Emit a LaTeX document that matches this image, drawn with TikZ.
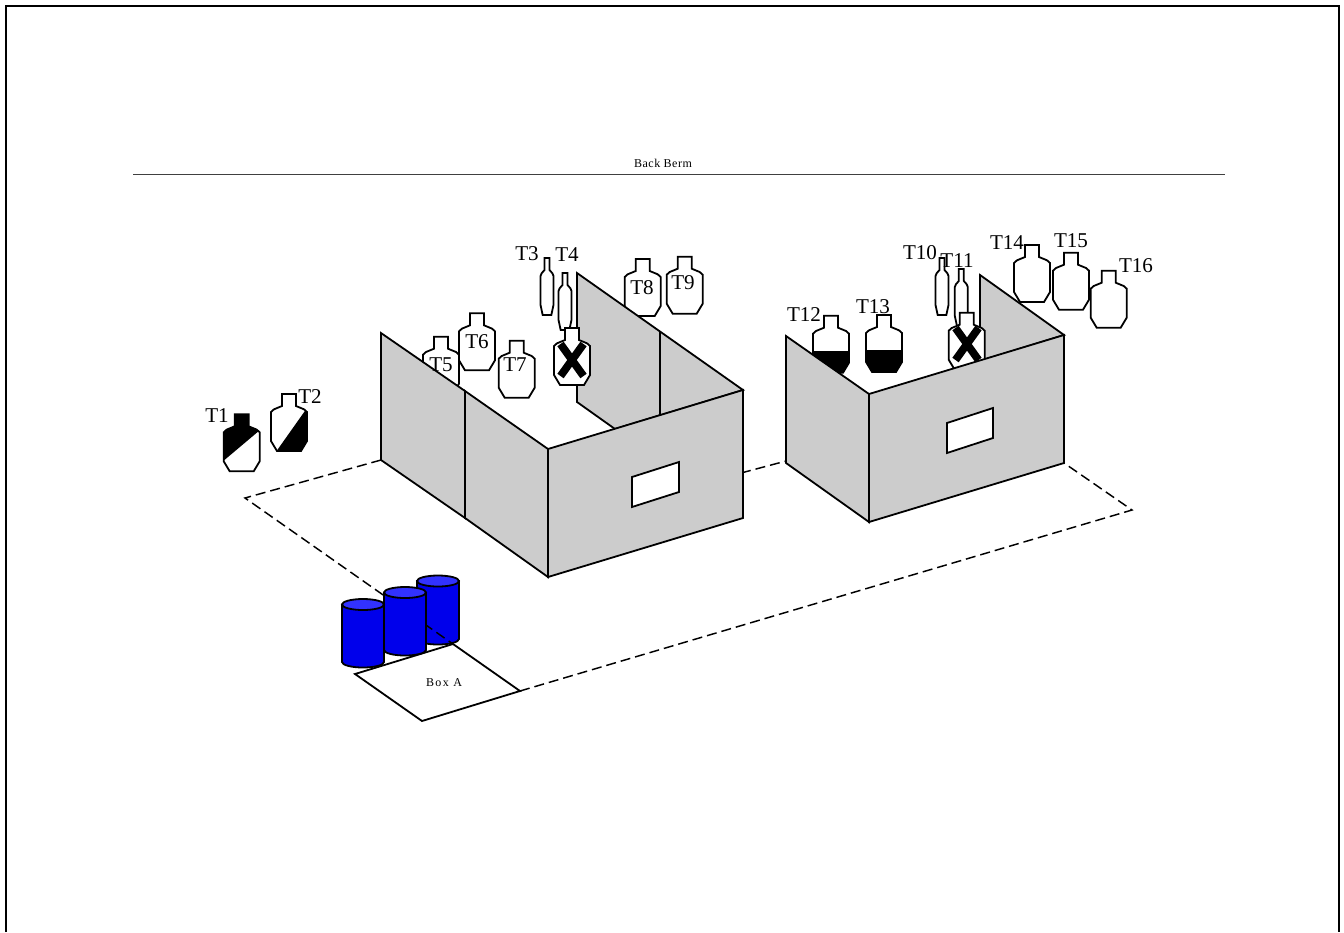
\documentclass[tikz,border=0pt]{standalone}
\usepackage{fontspec}
\setmainfont{Liberation Serif}
\newcommand{\tgtshape}{(-7,0) -- (7,0) -- (7,12) -- (15,15.3) -- (18,18) -- (18,47) -- (12,57) -- (-12,57) -- (-18,47) -- (-18,18) -- (-15,15.3) -- (-7,12) -- cycle}
% #1 cx, #2 top, #3 xscale, #4 black polygon (empty for none)
\newcommand{\tgt}[4]{%
  \begin{scope}[shift={(#1,#2)},xscale=#3]
    \fill[white] \tgtshape;
    \begin{scope}\clip \tgtshape; \fill[black] #4; \end{scope}
    \draw[ln] \tgtshape;
  \end{scope}}
\tikzset{
  ln/.style={line width=1.35pt,line join=miter,black},
  wall/.style={ln,fill=wallgray},
  dashln/.style={line width=1.1pt,dash pattern=on 7.5pt off 3.75pt,black},
  tlabel/.style={inner sep=0pt,font=\fontsize{15.8pt}{16pt}\selectfont},
  smallb/.style={inner sep=0pt,font=\fontsize{9pt}{10pt}\addfontfeatures{LetterSpace=4}\selectfont},
  smalla/.style={inner sep=0pt,font=\fontsize{9pt}{10pt}\addfontfeatures{LetterSpace=12}\selectfont},
  xmark/.style={line width=5.8pt,black}
}
\definecolor{wallgray}{gray}{0.8}
\definecolor{barrel}{RGB}{0,0,235}
\definecolor{barreltop}{RGB}{50,50,255}
\newcommand{\barrelshape}[3]{% left, top-ellipse y, bottom y
  \draw[ln,fill=barrel] (#1,#2) -- (#1,#3) arc[start angle=180,end angle=0,x radius=21,y radius=5.5] -- (#1+42,#2) -- cycle;
  \draw[ln,fill=barreltop] (#1+21,#2) ellipse[x radius=21,y radius=5.5];}
\begin{document}
\begin{tikzpicture}[x=0.75pt,y=-0.75pt]
\useasboundingbox (0,0) rectangle (1344,932);
\fill[white] (0,0) rectangle (1344,932);
% frame
\draw[line width=1.5pt] (6,932) -- (6,6) -- (1339,6) -- (1339,932);
% berm
\draw[line width=0.7pt,black!75] (133,174) -- (1225,174);
\node[smallb] (berm) at (663,163) {Back Berm};
% dashed boundary (right side and middle)
\coordinate (d1) at (381,460);
\coordinate (d2) at (245,498);
\coordinate (d3) at (453,644);
\coordinate (d4) at (520,691);
\coordinate (d5) at (1132,510);
\coordinate (d6) at (1064,463);
\coordinate (d7) at (741,473);
\coordinate (d8) at (786,461);
\draw[dashln] (d7) -- (d8);
\draw[dashln] (d4) -- (d5) -- (d6);
% targets behind walls
\tgt{241.7}{414.3}{1}{(-20,-2) -- (20,-2) -- (20,14.3) -- (-20,48) -- cycle}
\tgt{289}{394}{1}{(18,14) -- (-11.7,56) -- (-11.7,60) -- (20,60) -- (20,14) -- cycle}
\tgt{547}{258}{0.36}{(0,0)}
\tgt{565}{273}{0.36}{(0,0)}
\tgt{441}{336.7}{1}{(0,0)}
\tgt{477}{313.3}{1}{(0,0)}
\tgt{516.7}{340.7}{1}{(0,0)}
\tgt{642.7}{259}{1}{(0,0)}
\tgt{684.7}{256.7}{1}{(0,0)}
\tgt{831}{315.7}{1}{(-20,35.3) rectangle (20,60)}
\tgt{884}{315}{1}{(-20,35) rectangle (20,60)}
\tgt{942}{258}{0.36}{(0,0)}
\tgt{961.3}{269}{0.36}{(0,0)}
\tgt{1032}{245}{1}{(0,0)}
\tgt{1071}{252.7}{1}{(0,0)}
\tgt{1108.7}{270.7}{1}{(0,0)}
% back walls
\draw[wall] (577,273) -- (743,390) -- (615,429) -- (577,402) -- cycle;
\draw[ln] (660,332) -- (660,416);
\draw[wall] (980,275) -- (1064,335) -- (980,361) -- cycle;
% crossed targets
\tgt{572}{328}{1}{(0,0)}
\draw[xmark] (560.5,344) -- (583.5,376) (583.5,344) -- (560.5,376);
\tgt{966.7}{312.7}{1}{(0,0)}
\draw[xmark] (955.5,328) -- (978.5,360) (978.5,328) -- (955.5,360);
% front walls, left
\draw[wall] (381,333) -- (465,391) -- (465,518) -- (381,460) -- cycle;
\draw[wall] (465,391) -- (548,449) -- (548,577) -- (465,518) -- cycle;
\draw[wall] (548,449) -- (743,390) -- (743,518) -- (548,577) -- cycle;
\draw[ln,fill=white] (632,477) -- (679,462) -- (679,492) -- (632,507) -- cycle;
% front walls, right
\draw[wall] (786,336) -- (869,394) -- (869,522) -- (786,463) -- cycle;
\draw[wall] (869,394) -- (1064,335) -- (1064,463) -- (869,522) -- cycle;
\draw[ln,fill=white] (947,423) -- (993,408) -- (993,438) -- (947,453) -- cycle;
% box
\draw[ln,fill=white] (355,674) -- (453,644) -- (520,691) -- (422,721) -- cycle;
\node[smalla] (boxa) at (444,683) {Box A};
% barrels and dashed line
\barrelshape{417}{581}{639}
\draw[dashln] (d1) -- (d2) -- (d3);
\barrelshape{384}{592.5}{650}
\barrelshape{342}{604.5}{662}
% labels
\node[tlabel] (T1) at (217,416) {T1};
\node[tlabel] (T2) at (310,397) {T2};
\node[tlabel] (T3) at (527,254) {T3};
\node[tlabel] (T4) at (567,255) {T4};
\node[tlabel] (T5) at (441,365) {T5};
\node[tlabel] (T6) at (477,342) {T6};
\node[tlabel] (T7) at (515,365) {T7};
\node[tlabel] (T8) at (642,288) {T8};
\node[tlabel] (T9) at (683,283) {T9};
\node[tlabel] (T10) at (920,253) {T10};
\node[tlabel] (T11) at (957,261) {T11};
\node[tlabel] (T12) at (804,315) {T12};
\node[tlabel] (T13) at (873,307) {T13};
\node[tlabel] (T14) at (1007,243) {T14};
\node[tlabel] (T15) at (1071,241) {T15};
\node[tlabel] (T16) at (1136,266) {T16};
\end{tikzpicture}
\end{document}
